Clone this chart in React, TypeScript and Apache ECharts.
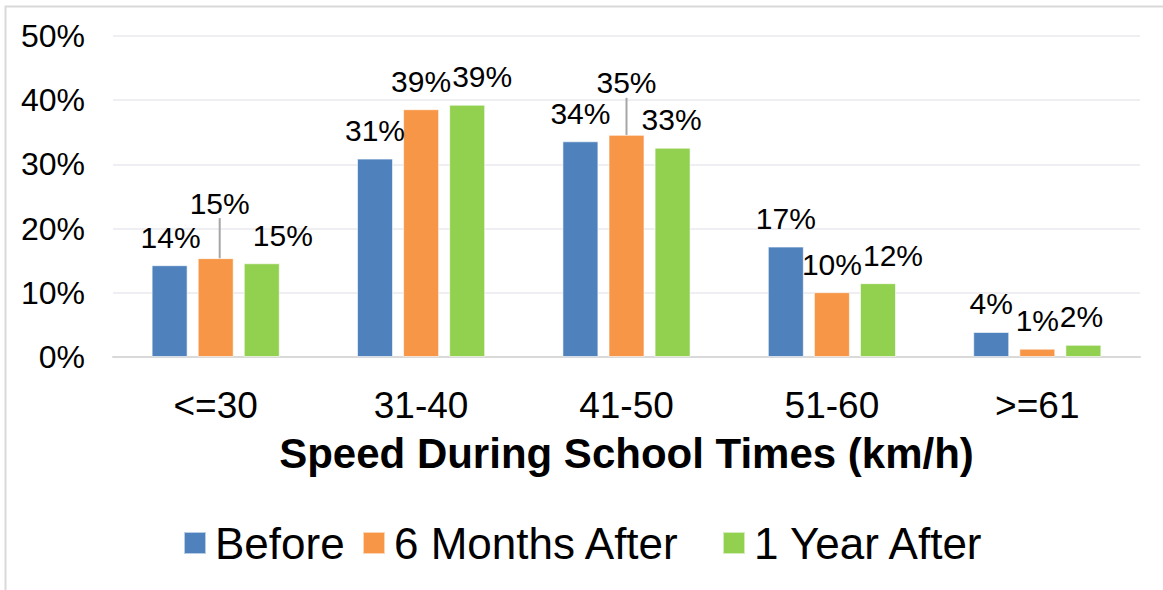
import React, { useEffect, useRef } from "react";
import * as echarts from "echarts";

const categories = ["<=30", "31-40", "41-50", "51-60", ">=61"];
const seriesNames = ["Before", "6 Months After", "1 Year After"];
const before = [14.3, 30.9, 33.6, 17.2, 3.9];
const sixMonths = [15.4, 38.6, 34.6, 10.1, 1.3];
const oneYear = [14.6, 39.3, 32.6, 11.5, 1.9];
const yTicks = [0, 10, 20, 30, 40, 50];
const colors = ["#4F81BD", "#F79646", "#92D050"];
const legendLeft = [183, 362, 722];

// label displacement (layout only) per series / category
const labelShift: number[][][] = [
  [[1, 0], [0, 0], [0, 0], [0, 0], [0, 0]],
  [[4, -27], [0, 0], [0, -24], [0, 0], [0, 0]],
  [[21, 0], [15, 0], [-1, 0], [15, 0], [-2, 0]],
];
const leader: boolean[][] = [
  [false, false, false, false, false],
  [true, false, true, false, false],
  [false, false, false, false, false],
];

const FONT = "'Liberation Sans', Arial, sans-serif";

export default function App() {
  const ref = useRef<HTMLDivElement>(null);
  useEffect(() => {
    if (!ref.current) return;
    const chart = echarts.init(ref.current, undefined, { renderer: "svg" });
    const all = [before, sixMonths, oneYear];
    chart.setOption({
      animation: false,
      backgroundColor: "#ffffff",
      textStyle: { fontFamily: FONT },
      graphic: [
        {
          type: "rect",
          shape: { x: 5.5, y: 6.5, width: 1200, height: 700 },
          style: { fill: "none", stroke: "#d9d9d9", lineWidth: 2 },
          silent: true,
          z: -1,
        },
      ],
      grid: { left: 113, right: 23, top: 36, bottom: 233, containLabel: false },
      legend: seriesNames.map((n, i) => ({
        data: [n],
        bottom: 25,
        left: legendLeft[i],
        padding: 0,
        itemWidth: 22,
        itemHeight: 22,
        icon: "rect",
        textStyle: { fontSize: 44, color: "#000", fontFamily: FONT, padding: [0, 0, 0, 4] },
      })),
      xAxis: {
        type: "category",
        data: categories,
        axisLine: { lineStyle: { color: "#d9d9d9", width: 2 } },
        axisTick: { show: false },
        axisLabel: { fontSize: 37, color: "#000", margin: 30, fontFamily: FONT },
        name: "Speed During School Times (km/h)",
        nameLocation: "middle",
        nameGap: 75,
        nameTextStyle: { fontSize: 42, fontWeight: "bold", color: "#000", fontFamily: FONT },
      },
      yAxis: {
        type: "value",
        min: 0,
        max: 50,
        interval: 10,
        axisLine: { show: false },
        axisTick: { show: false },
        splitLine: { lineStyle: { color: "#eeeef3", width: 2 } },
        axisLabel: {
          fontSize: 32,
          color: "#000",
          margin: 28,
          fontFamily: FONT,
          formatter: (v: number) => (yTicks.includes(v) ? `${v}%` : ""),
        },
      },
      series: seriesNames.map((name, si) => ({
        name,
        type: "bar",
        barWidth: 36,
        barGap: "28%",
        itemStyle: { color: colors[si], borderColor: "rgba(255,255,255,0.6)", borderWidth: 1 },
        data: all[si].map((v, ci) => ({
          value: v,
          labelLine: { show: leader[si][ci], lineStyle: { color: "#a6a6a6", width: 2 }, length2: 0 },
        })),
        label: {
          show: true,
          position: "top",
          distance: 13,
          fontSize: 30,
          color: "#000",
          fontFamily: FONT,
          formatter: (p: any) => `${Math.round(p.value)}%`,
        },
        labelLayout: (p: any) => ({
          dx: labelShift[si][p.dataIndex][0],
          dy: labelShift[si][p.dataIndex][1],
        }),
      })),
    });
    return () => chart.dispose();
  }, []);
  return (
    <div
      ref={ref}
      style={{ position: "fixed", left: 0, top: 0, width: 1163, height: 590 }}
    />
  );
}
